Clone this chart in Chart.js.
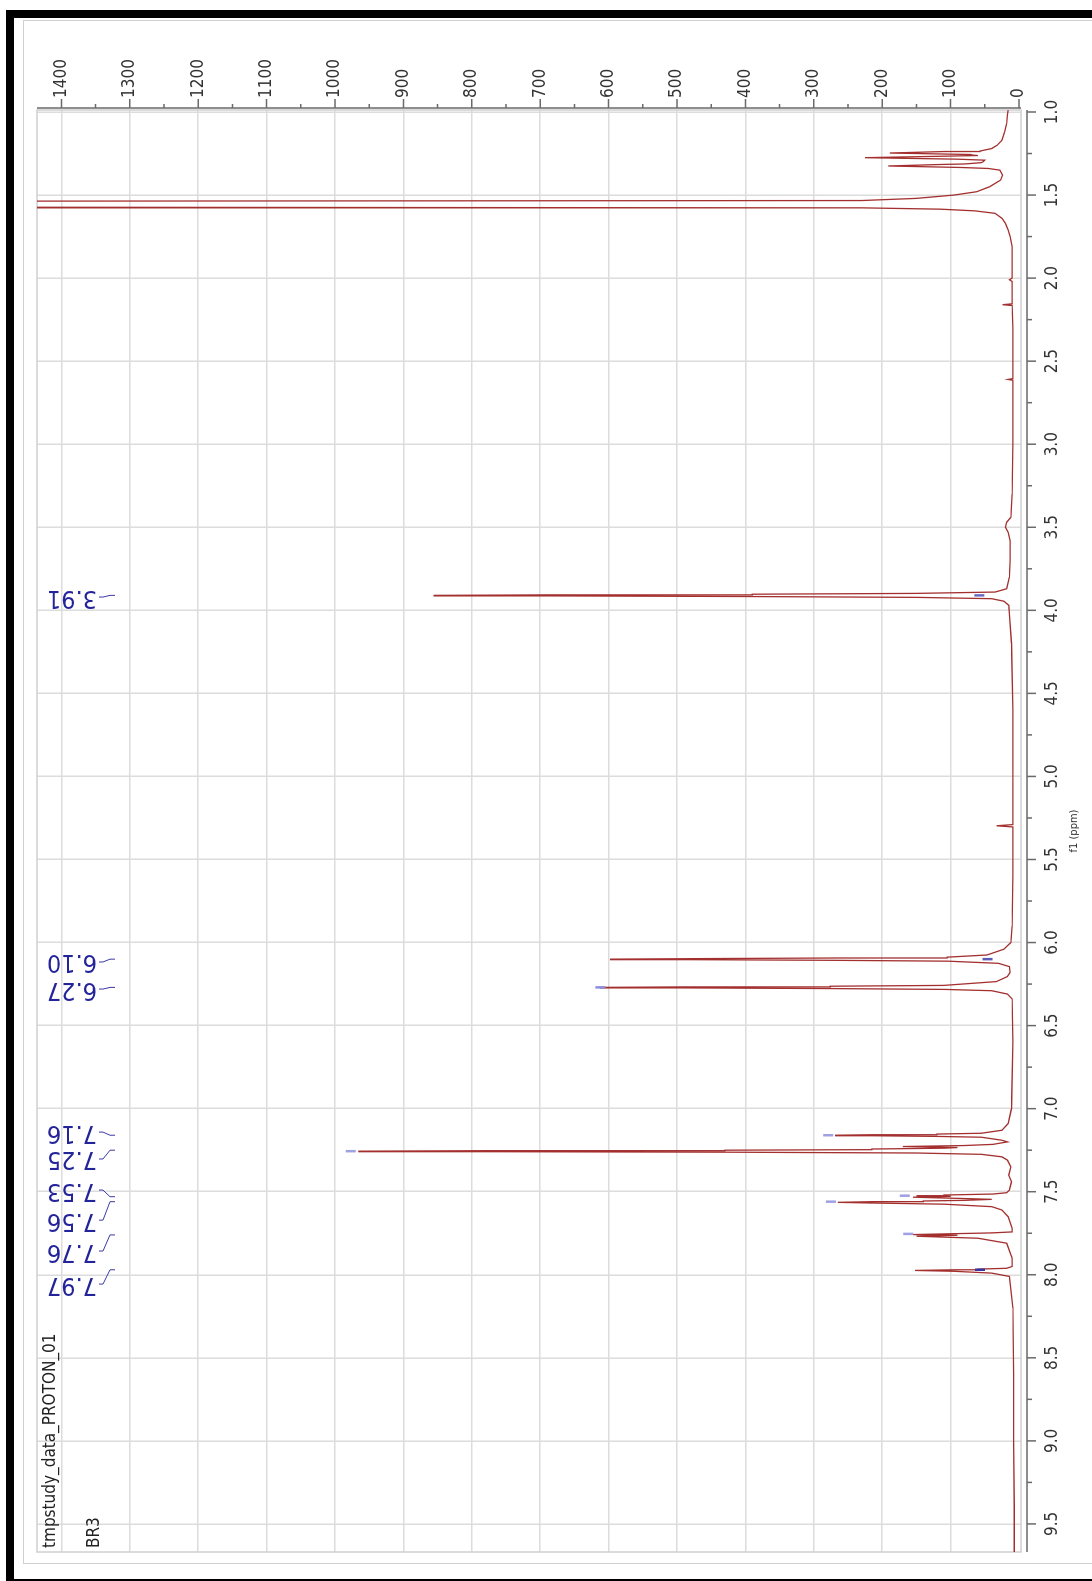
<!DOCTYPE html>
<html><head><meta charset="utf-8">
<script src="https://cdn.jsdelivr.net/npm/chart.js@4.4.1/dist/chart.umd.min.js"></script>
<style>
html,body{margin:0;padding:0;background:#fff;width:1092px;height:1581px;overflow:hidden;position:relative}
#rot{position:absolute;left:0;top:0;width:1581px;height:1092px;transform-origin:0 0;transform:rotate(-90deg) translate(-1581px,0)}
.b{position:absolute;background:#000}
.g{position:absolute;border:1.5px solid #d0d0d0;box-sizing:border-box}
</style></head><body>
<div id="rot"><canvas id="c" width="1581" height="1092"></canvas></div>
<div class="g" style="left:23px;top:20px;width:1090px;height:1544px"></div>
<div class="b" style="left:6px;top:10px;width:8px;height:1571px"></div>
<div class="b" style="left:6px;top:10px;width:1086px;height:8px"></div>
<div class="b" style="left:6px;top:1579px;width:1086px;height:2px"></div>
<script>
// ---------- data ----------
const ppm = [
 0.988,1.02,1.07,1.12,1.17,1.20,1.22,1.235,
 1.238,1.247,1.256,1.259,1.262,1.266,1.275,1.284,1.290,1.298,1.305,1.313,1.316,1.325,1.334,1.340,1.35,1.38,1.41,1.45,1.48,1.50,1.52,1.533,1.537,1.555,1.573,1.577,1.585,1.595,1.61,1.64,1.67,1.71,1.75,1.81,1.90,
 2.00,2.01,2.02,2.155,2.16,2.165,2.30,2.605,2.61,2.615,2.80,3.00,3.30,3.44,3.47,3.50,3.53,3.58,3.70,3.80,3.87,3.89,
 3.898,3.903,3.907,3.91,3.913,3.917,3.922,3.93,3.945,3.97,4.02,4.20,4.60,5.00,5.29,5.297,5.304,5.60,5.90,6.00,6.04,6.075,
 6.088,6.093,6.097,6.10,6.103,6.107,6.112,6.125,6.145,6.18,6.205,6.235,6.258,6.263,6.267,6.27,6.273,6.277,6.282,6.29,6.31,6.34,6.60,
 7.00,7.09,7.13,7.148,7.153,7.157,7.16,7.163,7.167,7.172,7.19,7.20,7.215,7.222,7.228,7.234,7.238,7.243,7.247,7.250,7.253,7.256,7.259,7.262,7.267,7.275,7.29,7.31,7.35,7.40,7.44,7.49,7.506,
 7.514,7.520,7.524,7.528,7.533,7.540,7.546,7.552,7.556,7.56,7.564,7.568,7.575,7.59,7.61,7.65,7.72,7.742,7.748,7.754,7.758,7.762,7.768,7.78,7.81,7.90,7.95,
 7.961,7.966,7.97,7.974,7.979,7.99,8.01,8.20,8.60,9.00,9.40,9.669
];
const intensity = [
 16,17,18,21,25,32,40,57,
 110,189,70,69,60,110,225,90,50,52,55,80,115,191,85,45,28,24,27,43,62,95,150,230,1600,9000,1600,230,115,65,35,25,20,16,13,10,10,
 10,14,10,10,24,10,9,9,16,9,9,9,10,12,18,20,16,13,13,14,18,35,
 150,390,690,856,690,390,150,40,22,15,14,11,9,9,9,33,9,9,10,12,22,47,
 105,270,480,598,480,270,105,30,14,13,17,33,110,276,490,613,490,276,110,40,17,10,9,
 11,16,25,55,120,215,269,215,120,55,25,17,38,80,170,90,110,215,230,430,780,966,780,430,150,55,25,17,12,15,11,14,18,38,
 110,150,100,155,90,40,80,140,215,265,215,110,40,25,16,10,10,40,110,155,90,150,60,18,10,10,18,
 60,95,152,95,40,14,9,8,8,7,7,7
];
const peakLabels = ['3.91','6.10','6.27','7.16','7.25','7.53','7.56','7.76','7.97'];
const labelAnchorPpm = [3.920,6.117,6.280,7.141,7.303,7.490,7.671,7.857,8.056];
const markPpm = [3.91,6.10,6.27,7.16,7.256,7.524,7.56,7.754,7.97];
const markIntensity = [58,46,612,279,977,167,275,162,57];
const markColors = ['#6a6ac4','#5c5cb8','#8c8cdc','#a0a0e4','#a0a0e4','#a0a0e4','#a0a0e4','#a0a0e4','#3434a4'];
const ppmTickLabels = ['1.0','1.5','2.0','2.5','3.0','3.5','4.0','4.5','5.0','5.5','6.0','6.5','7.0','7.5','8.0','8.5','9.0','9.5'];
const intensityTickLabels = ['0','100','200','300','400','500','600','700','800','900','1000','1100','1200','1300','1400'];
const titleLines = ['tmpstudy_data_PROTON_01','BR3'];
const axisTitle = 'f1 (ppm)';

// ---------- helpers ----------
const FONT = "'DejaVu Sans Condensed', 'DejaVu Sans', sans-serif";
function withMinors(labels){
  const v = labels.map(Number), t = [];
  v.forEach((a,i)=>{ t.push({value:a}); if(i<v.length-1) t.push({value:(a+v[i+1])/2}); });
  return t;
}
function labelFor(labels, value){
  const i = labels.findIndex(l => Math.abs(Number(l)-value) < 1e-9);
  return i >= 0 ? labels[i] : '';
}
const gridColor = labels => c => (c.tick && labelFor(labels, c.tick.value) !== '' && c.tick.value !== 0) ? '#dcdcdc' : 'rgba(0,0,0,0)';

const decor = {
  id: 'decor',
  beforeDatasetsDraw(chart){
    const {ctx, chartArea:a} = chart;
    ctx.save();
    ctx.strokeStyle = '#cfcfcf'; ctx.lineWidth = 1.5;
    ctx.strokeRect(a.left, a.top, a.right-a.left, a.bottom-a.top);
    ctx.restore();
  },
  afterDraw(chart){
    const {ctx, chartArea:a, scales:{x, y}} = chart;
    ctx.save();
    // ppm axis line + ticks
    ctx.strokeStyle = '#6a6a6a'; ctx.lineWidth = 1.5;
    const yb = a.bottom + 6;
    ctx.beginPath(); ctx.moveTo(a.left, yb); ctx.lineTo(a.right, yb);
    x.ticks.forEach(t => {
      const px = x.getPixelForValue(t.value);
      const len = labelFor(ppmTickLabels, t.value) ? 9 : 5;
      ctx.moveTo(px, yb); ctx.lineTo(px, yb + len);
    });
    // intensity axis line + ticks
    const xr = a.right + 2;
    ctx.moveTo(xr, a.top); ctx.lineTo(xr, a.bottom);
    y.ticks.forEach(t => {
      const py = y.getPixelForValue(t.value);
      const len = labelFor(intensityTickLabels, t.value) ? 9 : 4;
      ctx.moveTo(xr, py); ctx.lineTo(xr + len, py);
    });
    ctx.stroke();

    // peak labels
    ctx.fillStyle = '#24249a'; ctx.strokeStyle = '#3a3aa8'; ctx.lineWidth = 1;
    ctx.font = '25px ' + FONT;
    peakLabels.forEach((txt, i) => {
      const lx = x.getPixelForValue(labelAnchorPpm[i]);
      const px = x.getPixelForValue(Number(txt));
      const y0 = a.top + 60;
      ctx.save(); ctx.translate(lx, y0); ctx.rotate(-Math.PI/2);
      ctx.textAlign = 'left'; ctx.textBaseline = 'middle';
      ctx.fillText(txt, 0, 0); ctx.restore();
      ctx.beginPath();
      ctx.moveTo(lx, y0 + 2); ctx.lineTo(lx, y0 + 6);
      ctx.lineTo(px, y0 + 13); ctx.lineTo(px, y0 + 18);
      ctx.stroke();
    });

    // spectrum title
    ctx.fillStyle = '#222'; ctx.font = '17px ' + FONT;
    ctx.textAlign = 'left'; ctx.textBaseline = 'alphabetic';
    ctx.fillText(titleLines[0], a.left + 4, a.top + 18);
    ctx.fillText(titleLines[1], a.left + 4, a.top + 62);
    ctx.restore();
  }
};

new Chart(document.getElementById('c').getContext('2d'), {
  type: 'scatter',
  data: { datasets: [
    { label: 'spectrum', data: ppm.map((p,i)=>({x:p, y:intensity[i]})), showLine: true,
      borderColor: '#a3302f', borderWidth: 1.3, pointRadius: 0, tension: 0, order: 2 },
    { label: 'peaks', data: markPpm.map((p,i)=>({x:p, y:markIntensity[i]})), showLine: false,
      pointStyle: 'line', pointRadius: 5, pointRotation: 90, pointBorderWidth: 2.5,
      pointBorderColor: markColors, pointBackgroundColor: markColors, order: 1 }
  ]},
  options: {
    responsive: false, animation: false, devicePixelRatio: 1,
    layout: { padding: { left: 29, top: 37, right: 0, bottom: 0 } },
    plugins: { legend: { display: false }, tooltip: { enabled: false }, title: { display: false } },
    scales: {
      x: {
        type: 'linear', reverse: true, min: 0.988, max: 9.669, position: 'bottom',
        afterFit: s => { s.height = 71; },
        afterBuildTicks: s => { s.ticks = withMinors(ppmTickLabels); },
        ticks: { autoSkip: false, maxRotation: 0, minRotation: 0, padding: 21, color: '#333',
                 font: { family: FONT, size: 17 }, callback: v => labelFor(ppmTickLabels, v) },
        grid: { drawTicks: false, color: gridColor(ppmTickLabels), lineWidth: 1.5 },
        border: { display: false },
        title: { display: true, text: axisTitle, color: '#333', font: { family: FONT, size: 11 }, padding: { top: 0, bottom: 11 } }
      },
      y: {
        type: 'linear', min: -2.9, max: 1435.7, position: 'right',
        afterFit: s => { s.width = 110; },
        afterBuildTicks: s => { s.ticks = withMinors(intensityTickLabels); },
        ticks: { autoSkip: false, padding: 12, color: '#333',
                 font: { family: FONT, size: 17 }, callback: v => labelFor(intensityTickLabels, v) },
        grid: { drawTicks: false, color: gridColor(intensityTickLabels), lineWidth: 1.5 },
        border: { display: false }
      }
    }
  },
  plugins: [decor]
});
</script>
</body></html>
